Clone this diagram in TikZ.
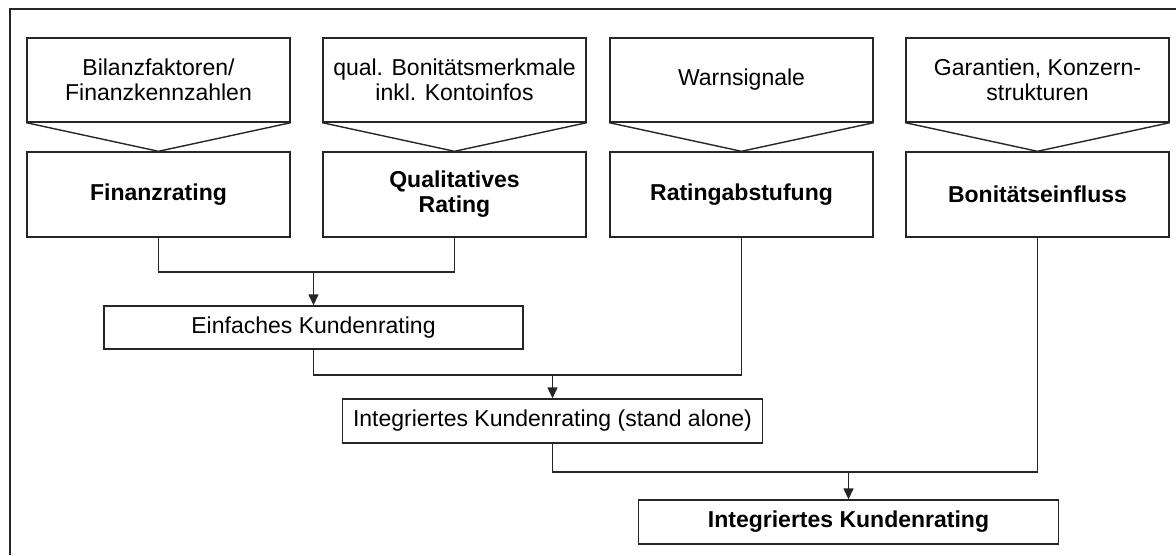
\documentclass[tikz,border=0pt]{standalone}
\usepackage{fontspec}
\setmainfont{Liberation Sans}
\usetikzlibrary{arrows.meta,calc}

\begin{document}
\begin{tikzpicture}[x=1pt,y=-1pt,line width=1.4pt,draw=black!85,
  font=\fontsize{23}{25}\selectfont,
  box/.style={draw=black!85,fill=white,align=center,inner sep=0pt,minimum width=263pt},
  inbox/.style={box,minimum height=84pt},
  rating/.style={box,minimum height=85pt,font=\fontsize{23}{25}\selectfont\bfseries},
  wide/.style={box,minimum width=420pt,minimum height=44pt},
  pfeil/.style={-{Triangle[length=11pt,width=10pt]}}]
\useasboundingbox (0,0) rectangle (1176,555);
\draw (10,555) -- (10,9) -- (1176,9);

\node[inbox] (bil) at (158.5,80) {Bilanzfaktoren/\\Finanzkennzahlen};
\node[inbox] (bon) at (454.5,80) {qual. Bonitätsmerkmale\\inkl. Kontoinfos};
\node[inbox] (warn) at (741.5,80) {Warnsignale};
\node[inbox] (gar) at (1037.5,80) {Garantien, Konzern-\\strukturen};

\node[rating] (fin) at (158.5,194.5) {Finanzrating};
\node[rating] (qual) at (454.5,194.5) {Qualitatives\\Rating};
\node[rating] (abst) at (741.5,194.5) {Ratingabstufung};
\node[rating] (einfl) at (1037.5,194.5) {Bonitätseinfluss};

\foreach \a/\b in {bil/fin,bon/qual,warn/abst,gar/einfl}
  \draw (\a.south west) -- (\b.north) -- (\a.south east);

\node[wide,minimum width=419pt,minimum height=43pt] (einf) at (313.5,327.5) {Einfaches Kundenrating};
\node[wide] (alone) at (552.5,421) {Integriertes Kundenrating (stand alone)};
\node[wide,font=\fontsize{23}{25}\selectfont\bfseries] (ges) at (848.5,522) {Integriertes Kundenrating};

\coordinate (j1) at (313.5,272);
\coordinate (j2) at (552.5,375);
\coordinate (j3) at (848.5,472);

\draw (fin.south) |- (j1) -| (qual.south);
\draw[pfeil] (j1) -- (einf.north);
\draw (einf.south) |- (j2) -| (abst.south);
\draw[pfeil] (j2) -- (alone.north);
\draw (alone.south) |- (j3) -| (einfl.south);
\draw[pfeil] (j3) -- (ges.north);

\end{tikzpicture}
\end{document}
